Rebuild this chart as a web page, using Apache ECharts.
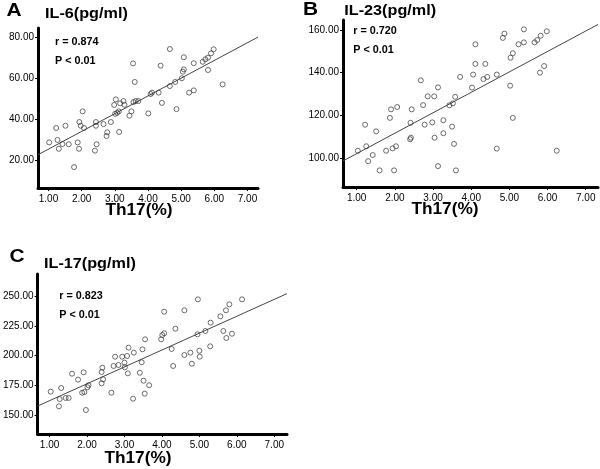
<!DOCTYPE html>
<html><head><meta charset="utf-8">
<script src="https://cdn.jsdelivr.net/npm/echarts@6/dist/echarts.min.js"></script>
<style>html,body{margin:0;padding:0;background:#fff}#c{width:600px;height:469px}</style>
</head><body><div id="c"></div>
<script>
// Panel A: Th17(%) vs IL-6(pg/ml)
const th17A = [1.02,1.23,1.27,1.31,1.42,1.51,1.61,1.77,1.88,1.92,1.93,1.97,2.03,2.07,2.40,2.43,2.43,2.45,2.66,2.75,2.77,2.88,2.98,3.01,3.03,3.07,3.13,3.12,3.16,3.26,3.29,3.44,3.50,3.56,3.63,3.71,4.01,3.55,3.60,4.08,4.12,4.32,4.38,4.66,4.66,4.82,5.02,5.05,5.08,5.08,5.24,5.38,5.38,5.65,5.73,5.81,5.81,5.90,5.98,6.25,4.42,4.86];
const il6   = [28.9,35.9,30.1,25.8,28.1,37.0,28.0,16.9,28.9,25.8,38.8,37.0,44.0,35.9,24.9,38.8,37.0,28.0,37.8,32.0,33.8,38.8,47.1,42.8,49.8,43.3,34.0,44.0,47.9,49.0,47.2,41.9,44.0,48.5,49.0,49.0,43.0,67.3,58.3,52.4,53.1,53.1,66.2,74.3,56.3,58.3,60.1,63.3,64.4,70.3,53.1,54.2,67.4,68.1,69.3,70.1,64.1,72.2,74.2,57.1,48.1,45.1];
// Panel B: Th17(%) vs IL-23(pg/ml)
const th17B = [1.03,1.22,1.25,1.30,1.42,1.51,1.60,1.77,1.87,1.90,1.94,1.98,2.03,2.06,2.41,2.44,2.40,2.42,2.74,2.78,2.86,2.98,3.03,3.04,3.13,3.27,3.27,3.43,3.52,3.50,3.55,3.60,2.68,3.13,3.58,3.71,4.02,4.05,4.11,4.11,4.32,4.37,4.42,4.67,4.83,4.87,5.02,5.03,5.09,5.24,5.38,5.38,5.66,5.73,5.82,5.80,5.91,5.98,4.67,5.09,6.24];
const il23  = [103.4,115.6,105.5,98.5,101.4,112.5,94.2,103.4,118.8,122.8,104.5,94.2,105.5,123.9,116.5,122.8,108.8,109.5,124.8,115.6,128.9,116.7,128.9,109.5,96.2,117.7,111.6,124.7,125.6,114.7,106.6,94.2,136.4,133.1,128.7,138.0,133.0,139.1,144.1,153.3,137.0,144.1,138.0,139.1,156.3,158.3,133.9,147.0,149.1,153.3,160.3,154.2,154.2,155.3,157.3,140.0,143.1,159.4,104.4,118.8,103.4];
// Panel C: Th17(%) vs IL-17(pg/ml)
const th17C = [1.03,1.25,1.27,1.31,1.43,1.51,1.60,1.76,1.87,1.91,1.93,1.97,2.01,2.04,2.39,2.41,2.39,2.43,2.65,2.71,2.75,2.84,2.94,3.00,3.01,3.09,3.07,3.11,3.23,3.25,3.41,3.46,3.48,3.51,3.54,3.55,3.66,3.98,4.01,4.06,4.06,4.36,4.60,4.96,4.95,5.16,5.30,5.56,5.64,5.72,5.87,5.71,5.80,6.14,4.26,4.30,4.60,4.76,4.80,5.00,5.01,5.29];
const il17  = [169.6,157.3,163.4,172.7,164.3,164.3,184.7,179.7,168.7,185.9,169.3,154.2,173.3,175.0,186.1,189.7,176.6,180.0,168.7,191.2,199.0,192.0,199.0,194.0,190.1,185.0,199.6,206.6,163.7,202.4,185.5,194.3,205.2,178.8,167.9,213.6,175.0,213.6,217.2,218.7,236.8,222.5,238.0,247.2,217.8,220.6,227.6,232.9,220.6,214.7,218.3,238.0,243.0,247.2,205.5,191.2,200.4,202.4,193.1,204.0,199.0,207.7];
// fitted regression lines (end points)
const fitA = [[0.683,22.9],[7.317,80.1]];
const fitB = [[0.641,98.6],[7.322,162.6]];
const fitC = [[0.680,157.5],[7.340,252.0]];
// tick labels
const xTicks  = [1,2,3,4,5,6,7];
const yTicksA = [20,40,60,80];
const yTicksB = [100,120,140,160];
const yTicksC = [150,175,200,225,250];
const rTexts = ['r = 0.874','r = 0.720','r = 0.823'];
const pText = 'P < 0.01';
const yTitles = ['IL-6(pg/ml)','IL-23(pg/ml)','IL-17(pg/ml)'];
const xTitle = 'Th17(%)';
const panelLetters = ['A','B','C'];

const FF = '"Liberation Sans", Arial, sans-serif';
function zip(a,b){return a.map((v,i)=>[v,b[i]]);}
function xAx(gi,min,max){return {type:'value',gridIndex:gi,min:min,max:max,splitLine:{show:false},
  axisLine:{show:true,onZero:false,lineStyle:{color:'#000',width:3}},
  axisTick:{show:true,length:3,customValues:xTicks,lineStyle:{color:'#000',width:1}},
  axisLabel:{customValues:xTicks,formatter:v=>v.toFixed(2),fontSize:10,color:'#000',margin:6,fontFamily:FF}};}
function yAx(gi,min,max,ticks){return {type:'value',gridIndex:gi,min:min,max:max,splitLine:{show:false},
  axisLine:{show:true,onZero:false,lineStyle:{color:'#000',width:3}},
  axisTick:{show:true,length:3,customValues:ticks,lineStyle:{color:'#000',width:1}},
  axisLabel:{customValues:ticks,formatter:v=>v.toFixed(2),fontSize:10,color:'#000',margin:4,fontFamily:FF}};}
function sc(gi,x,y){return {type:'scatter',xAxisIndex:gi,yAxisIndex:gi,data:zip(x,y),symbol:'circle',symbolSize:5,z:3,
  itemStyle:{color:'rgba(255,255,255,0)',borderColor:'#333',borderWidth:0.9}};}
function ln(gi,d){return {type:'line',xAxisIndex:gi,yAxisIndex:gi,data:d,symbol:'none',z:2,lineStyle:{color:'#444',width:1}};}
function txt(t,x,y,size,bold,align,sx){return {type:'text',x:x,y:y,scaleX:sx||1,silent:true,
  style:{text:t,font:(bold?'bold ':'')+size+'px '+FF,fill:'#000',textAlign:align||'left',textVerticalAlign:'middle'}};}

const chart = echarts.init(document.getElementById('c'),null,{renderer:'canvas'});
chart.setOption({
  animation:false,
  backgroundColor:'#fff',
  grid:[
    {left:38,top:28,width:220,height:160,containLabel:false},
    {left:343,top:20,width:255,height:167,containLabel:false},
    {left:37,top:274,width:250,height:160,containLabel:false}
  ],
  xAxis:[xAx(0,0.683,7.317),xAx(1,0.641,7.322),xAx(2,0.680,7.340)],
  yAxis:[yAx(0,6.73,84.52,yTicksA),yAx(1,86.40,164.69,yTicksB),yAx(2,134.03,268.49,yTicksC)],
  series:[sc(0,th17A,il6),ln(0,fitA),sc(1,th17B,il23),ln(1,fitB),sc(2,th17C,il17),ln(2,fitC)],
  graphic:[
    txt(panelLetters[0],14,11,19,true,'center',1.1),
    txt(panelLetters[1],310.5,10,19,true,'center',1.1),
    txt(panelLetters[2],17,257,19,true,'center',1.1),
    txt(yTitles[0],45,14,15,true,'left',1.08),
    txt(yTitles[1],344.3,10.5,15,true,'left',1.08),
    txt(yTitles[2],44,264,15,true,'left',1.08),
    txt(rTexts[0],55,42,10,true,'left',1.08),
    txt(pText,55,61,10,true,'left',1.08),
    txt(rTexts[1],353.3,31.7,10,true,'left',1.08),
    txt(pText,353.3,50,10,true,'left',1.08),
    txt(rTexts[2],59.3,296.7,10,true,'left',1.08),
    txt(pText,59.3,315,10,true,'left',1.08),
    txt(xTitle,139,211,16,true,'center',1.08),
    txt(xTitle,445,210,16,true,'center',1.08),
    txt(xTitle,138,459,16,true,'center',1.08)
  ]
});
</script></body></html>
